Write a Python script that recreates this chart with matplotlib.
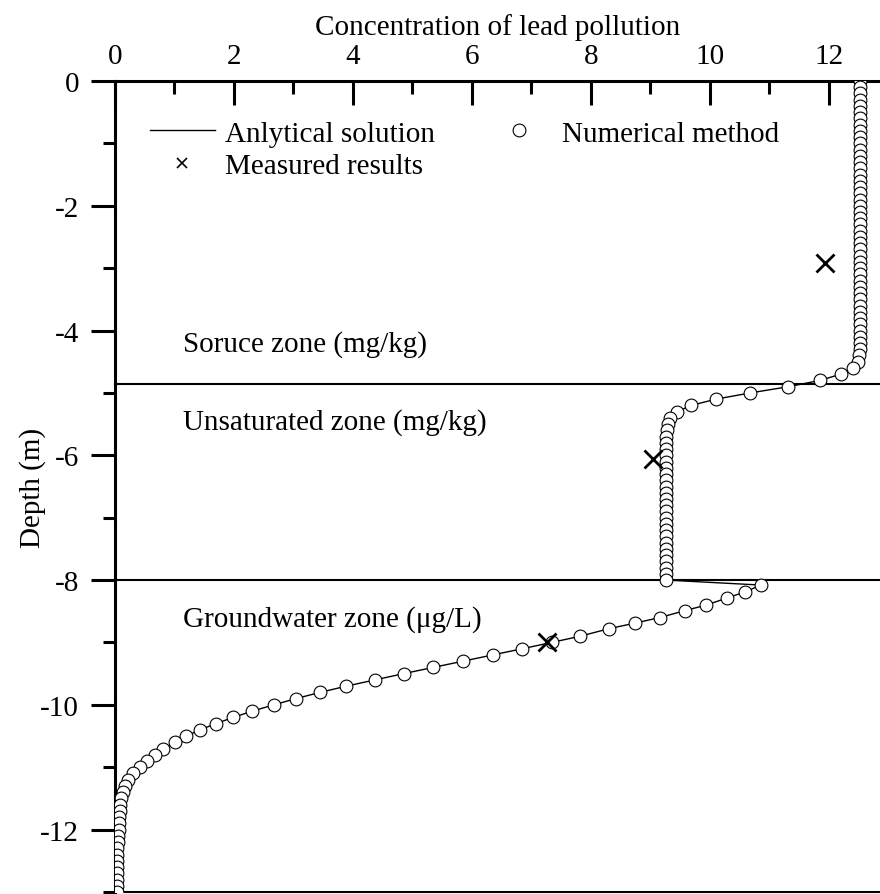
import matplotlib
matplotlib.use("Agg")
import matplotlib.pyplot as plt
from matplotlib.lines import Line2D
from matplotlib.ticker import MultipleLocator

plt.rcParams['font.family'] = ['Liberation Serif', 'DejaVu Serif']
plt.rcParams['axes.unicode_minus'] = False

# depth of the calculation nodes (m), 0.1 m apart
depth = [
    0.0, -0.1, -0.2, -0.3, -0.4, -0.5, -0.6, -0.7, -0.8, -0.9,
    -1.0, -1.1, -1.2, -1.3, -1.4, -1.5, -1.6, -1.7, -1.8, -1.9,
    -2.0, -2.1, -2.2, -2.3, -2.4, -2.5, -2.6, -2.7, -2.8, -2.9,
    -3.0, -3.1, -3.2, -3.3, -3.4, -3.5, -3.6, -3.7, -3.8, -3.9,
    -4.0, -4.1, -4.2, -4.3, -4.4, -4.5, -4.6, -4.7, -4.8, -4.9,
    -5.0, -5.1, -5.2, -5.3, -5.4, -5.5, -5.6, -5.7, -5.8, -5.9,
    -6.0, -6.1, -6.2, -6.3, -6.4, -6.5, -6.6, -6.7, -6.8, -6.9,
    -7.0, -7.1, -7.2, -7.3, -7.4, -7.5, -7.6, -7.7, -7.8, -7.9,
    -8.0, -8.08, -8.19, -8.29, -8.4, -8.49, -8.6, -8.69, -8.78, -8.9,
    -9.0, -9.1, -9.2, -9.3, -9.4, -9.5, -9.6, -9.7, -9.8, -9.9,
    -10.0, -10.1, -10.2, -10.3, -10.4, -10.5, -10.6, -10.7, -10.8, -10.9,
    -11.0, -11.1, -11.2, -11.3, -11.4, -11.5, -11.6, -11.7, -11.8, -11.9,
    -12.0, -12.1, -12.2, -12.3, -12.4, -12.5, -12.6, -12.7, -12.8, -12.9,
    -13.0,
]

# concentration (numerical and analytical overlap)
concentration = [
    12.52, 12.52, 12.52, 12.52, 12.52, 12.52, 12.52, 12.52, 12.52, 12.52,
    12.52, 12.52, 12.52, 12.52, 12.52, 12.52, 12.52, 12.52, 12.52, 12.52,
    12.52, 12.52, 12.52, 12.52, 12.52, 12.52, 12.52, 12.52, 12.52, 12.52,
    12.52, 12.52, 12.52, 12.52, 12.52, 12.52, 12.52, 12.52, 12.52, 12.52,
    12.52, 12.52, 12.52, 12.52, 12.51, 12.49, 12.41, 12.20, 11.85, 11.32,
    10.68, 10.10, 9.69, 9.45, 9.33, 9.29, 9.28, 9.27, 9.27, 9.27,
    9.27, 9.27, 9.27, 9.27, 9.27, 9.27, 9.27, 9.27, 9.27, 9.27,
    9.27, 9.27, 9.27, 9.27, 9.27, 9.27, 9.27, 9.27, 9.27, 9.27,
    9.27, 10.86, 10.59, 10.28, 9.94, 9.58, 9.16, 8.74, 8.30, 7.82,
    7.34, 6.85, 6.35, 5.85, 5.35, 4.85, 4.37, 3.89, 3.45, 3.04,
    2.67, 2.31, 1.99, 1.70, 1.43, 1.20, 1.01, 0.81, 0.67, 0.53,
    0.42, 0.31, 0.22, 0.17, 0.13, 0.10, 0.09, 0.08, 0.07, 0.06,
    0.06, 0.05, 0.05, 0.04, 0.04, 0.04, 0.03, 0.03, 0.03, 0.03,
    0.03,
]

measured_x = [11.93, 9.04, 7.26]
measured_depth = [-2.92, -6.06, -9.0]

zone_bounds = [-4.86, -8.0]
zone_labels = ['Soruce zone (mg/kg)', 'Unsaturated zone (mg/kg)', 'Groundwater zone (\u03bcg/L)']
zone_label_depth = [-4.21, -5.46, -8.62]

FS = 21

fig = plt.figure(figsize=(8.8, 8.95), dpi=100)
ax = fig.add_axes([115 / 880, 2 / 895, 1 - 115 / 880, (893 - 82) / 895])

for yb in zone_bounds:
    ax.axhline(yb, color='black', lw=1.5, zorder=1)

ax.plot(concentration, depth, color='black', lw=1.0, zorder=2)
ax.plot(concentration, depth, ls='none', marker='o', ms=9.2,
        mfc='white', mec='black', mew=0.8, zorder=3)
ax.plot(measured_x, measured_depth, ls='none', marker='x', ms=13,
        mew=2.0, color='black', zorder=4)

for label, yd in zip(zone_labels, zone_label_depth):
    ax.text(1.14, yd, label, fontsize=FS, va='center', ha='left')

ax.set_xlim(0, 12.86)
ax.set_ylim(-13, 0)

ax.xaxis.tick_top()
ax.xaxis.set_label_position('top')
ax.set_xlabel('Concentration of lead pollution', fontsize=FS, labelpad=6)
ax.set_ylabel('Depth (m)', fontsize=FS, labelpad=-4)

ax.xaxis.set_major_locator(MultipleLocator(2))
ax.xaxis.set_minor_locator(MultipleLocator(1))
ax.yaxis.set_major_locator(MultipleLocator(2))
ax.yaxis.set_minor_locator(MultipleLocator(1))

ax.tick_params(axis='x', which='major', direction='in', length=17, width=2.2,
               labelsize=FS, pad=9)
ax.tick_params(axis='x', which='minor', direction='in', length=9, width=2.2)
ax.tick_params(axis='y', which='major', direction='out', length=17, width=2.2,
               labelsize=FS, pad=9)
ax.tick_params(axis='y', which='minor', direction='out', length=9, width=2.2)

ax.spines['right'].set_visible(False)
for s in ['top', 'left']:
    ax.spines[s].set_linewidth(2.2)
ax.spines['bottom'].set_linewidth(1.5)

handles = [
    Line2D([], [], color='black', lw=1.0),
    Line2D([], [], ls='none', marker='x', ms=7, mew=1.2, color='black'),
    Line2D([], [], ls='none', marker='o', ms=9.2, mfc='white', mec='black', mew=0.8),
]
labels = ['Anlytical solution', 'Measured results', 'Numerical method']
ax.legend(handles, labels, ncol=2, frameon=False, fontsize=FS,
          loc='upper left', bbox_to_anchor=(0.031, 0.966),
          handlelength=2.2, handletextpad=0.35, columnspacing=1.8,
          labelspacing=0.22, borderaxespad=0)

fig.savefig('out.png', dpi=100)
